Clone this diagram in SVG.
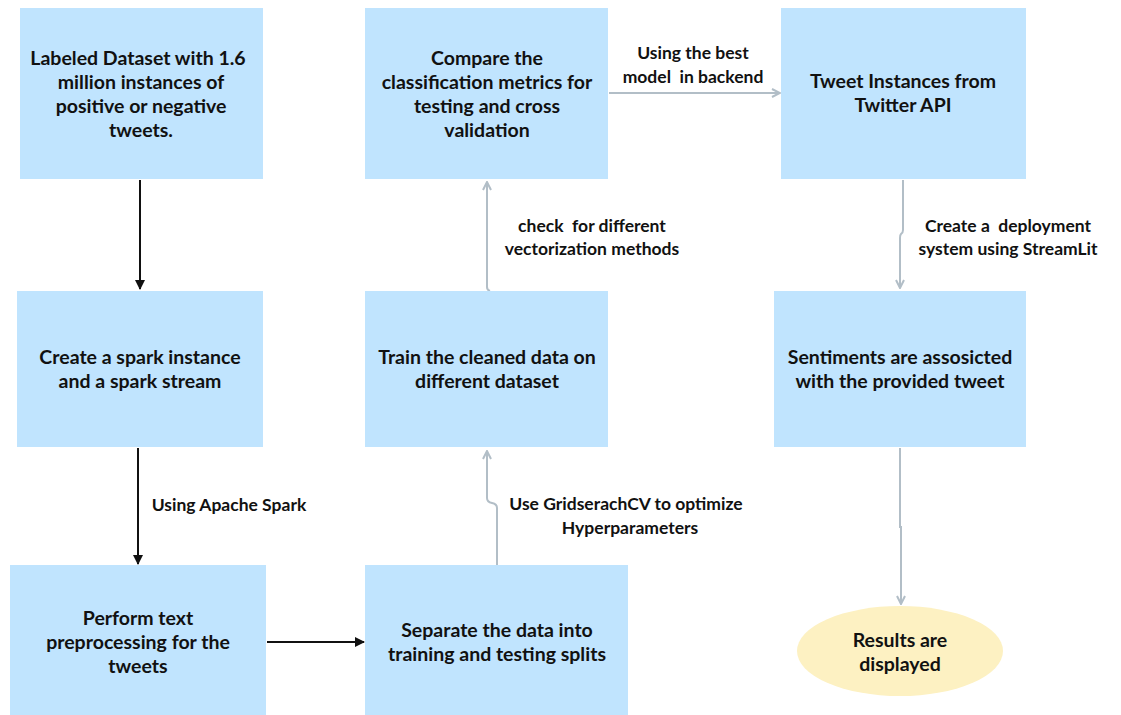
<svg xmlns="http://www.w3.org/2000/svg" width="1121" height="715" viewBox="0 0 1121 715">
<defs>
<style>
.box{fill:#c0e4fe}
.ell{fill:#fdf1c2}
.t{font-family:Lato,"Open Sans",sans-serif;font-weight:700;font-size:19.5px;fill:#111;text-anchor:middle}
.l{font-family:Lato,"Open Sans",sans-serif;font-weight:700;font-size:17.5px;fill:#111;text-anchor:middle;white-space:pre}
.k{stroke:#111;stroke-width:2;fill:none}
.g{stroke:#b2bec7;stroke-width:2;fill:none}
</style>
<marker id="ak" viewBox="0 0 10 10" refX="9" refY="5" markerWidth="5" markerHeight="5" orient="auto"><path d="M0,0 L10,5 L0,10 z" fill="#111"/></marker>
<marker id="ag" viewBox="0 0 10 10" refX="9" refY="5" markerWidth="5" markerHeight="5" orient="auto"><path d="M1,1 L9,5 L1,9" fill="none" stroke="#b2bec7" stroke-width="2"/></marker>
</defs>
<rect width="1121" height="715" fill="#fff"/>
<g id="connectors">
<path class="k" d="M140,180 L140,289" marker-end="url(#ak)"/>
<path class="k" d="M138,448 L138,564" marker-end="url(#ak)"/>
<path class="k" d="M267,642 L364,642" marker-end="url(#ak)"/>
<path class="g" d="M497,565 L497,508 Q497,504 492,503 Q487,502 487,498 L487,451" marker-end="url(#ag)"/>
<path class="g" d="M490,291 Q487,290 487,287 L487,182" marker-end="url(#ag)"/>
<path class="g" d="M609,93 L780,93" marker-end="url(#ag)"/>
<path class="g" d="M903,180 L903,230 Q903,233 901,234 Q900,235 900,238 L900,288" marker-end="url(#ag)"/>
<path class="g" d="M900,448 L900,527 L901,527 L901,604" marker-end="url(#ag)"/>
<text class="l" x="693" y="59" xml:space="preserve">Using the best</text>
<text class="l" x="693" y="83" xml:space="preserve">model  in backend</text>
<text class="l" x="592" y="232" xml:space="preserve">check  for different</text>
<text class="l" x="592" y="255" xml:space="preserve">vectorization methods</text>
<text class="l" x="1008" y="232" xml:space="preserve">Create a  deployment</text>
<text class="l" x="1008" y="255" xml:space="preserve">system using StreamLit</text>
<text class="l" x="229" y="511">Using Apache Spark</text>
<text class="l" x="626" y="510">Use GridserachCV to optimize</text>
<text class="l" x="630" y="534">Hyperparameters</text>
</g>
<g id="n1"><rect class="box" x="20" y="8" width="243" height="171"/>
<text class="t" x="138" y="65">Labeled Dataset with 1.6</text>
<text class="t" x="141" y="89">million instances of</text>
<text class="t" x="141" y="113">positive or negative</text>
<text class="t" x="141" y="137">tweets.</text></g>
<g id="n2"><rect class="box" x="365" y="8" width="243" height="171"/>
<text class="t" x="487" y="65">Compare the</text>
<text class="t" x="487" y="89">classification metrics for</text>
<text class="t" x="487" y="113">testing and cross</text>
<text class="t" x="487" y="137">validation</text></g>
<g id="n3"><rect class="box" x="781" y="8" width="245" height="171"/>
<text class="t" x="903" y="88">Tweet Instances from</text>
<text class="t" x="903" y="112">Twitter API</text></g>
<g id="n4"><rect class="box" x="17" y="291" width="246" height="156"/>
<text class="t" x="140" y="364">Create a spark instance</text>
<text class="t" x="140" y="388">and a spark stream</text></g>
<g id="n5"><rect class="box" x="365" y="291" width="243" height="156"/>
<text class="t" x="487" y="364">Train the cleaned data on</text>
<text class="t" x="487" y="388">different dataset</text></g>
<g id="n6"><rect class="box" x="774" y="291" width="252" height="156"/>
<text class="t" x="900" y="364">Sentiments are assosicted</text>
<text class="t" x="900" y="388">with the provided tweet</text></g>
<g id="n7"><rect class="box" x="10" y="565" width="256" height="150"/>
<text class="t" x="138" y="625">Perform text</text>
<text class="t" x="138" y="649">preprocessing for the</text>
<text class="t" x="138" y="673">tweets</text></g>
<g id="n8"><rect class="box" x="365" y="565" width="263" height="150"/>
<text class="t" x="497" y="637">Separate the data into</text>
<text class="t" x="497" y="661">training and testing splits</text></g>
<g id="n9"><ellipse class="ell" cx="900" cy="651" rx="103" ry="45"/>
<text class="t" x="900" y="647">Results are</text>
<text class="t" x="900" y="671">displayed</text></g>
</svg>
